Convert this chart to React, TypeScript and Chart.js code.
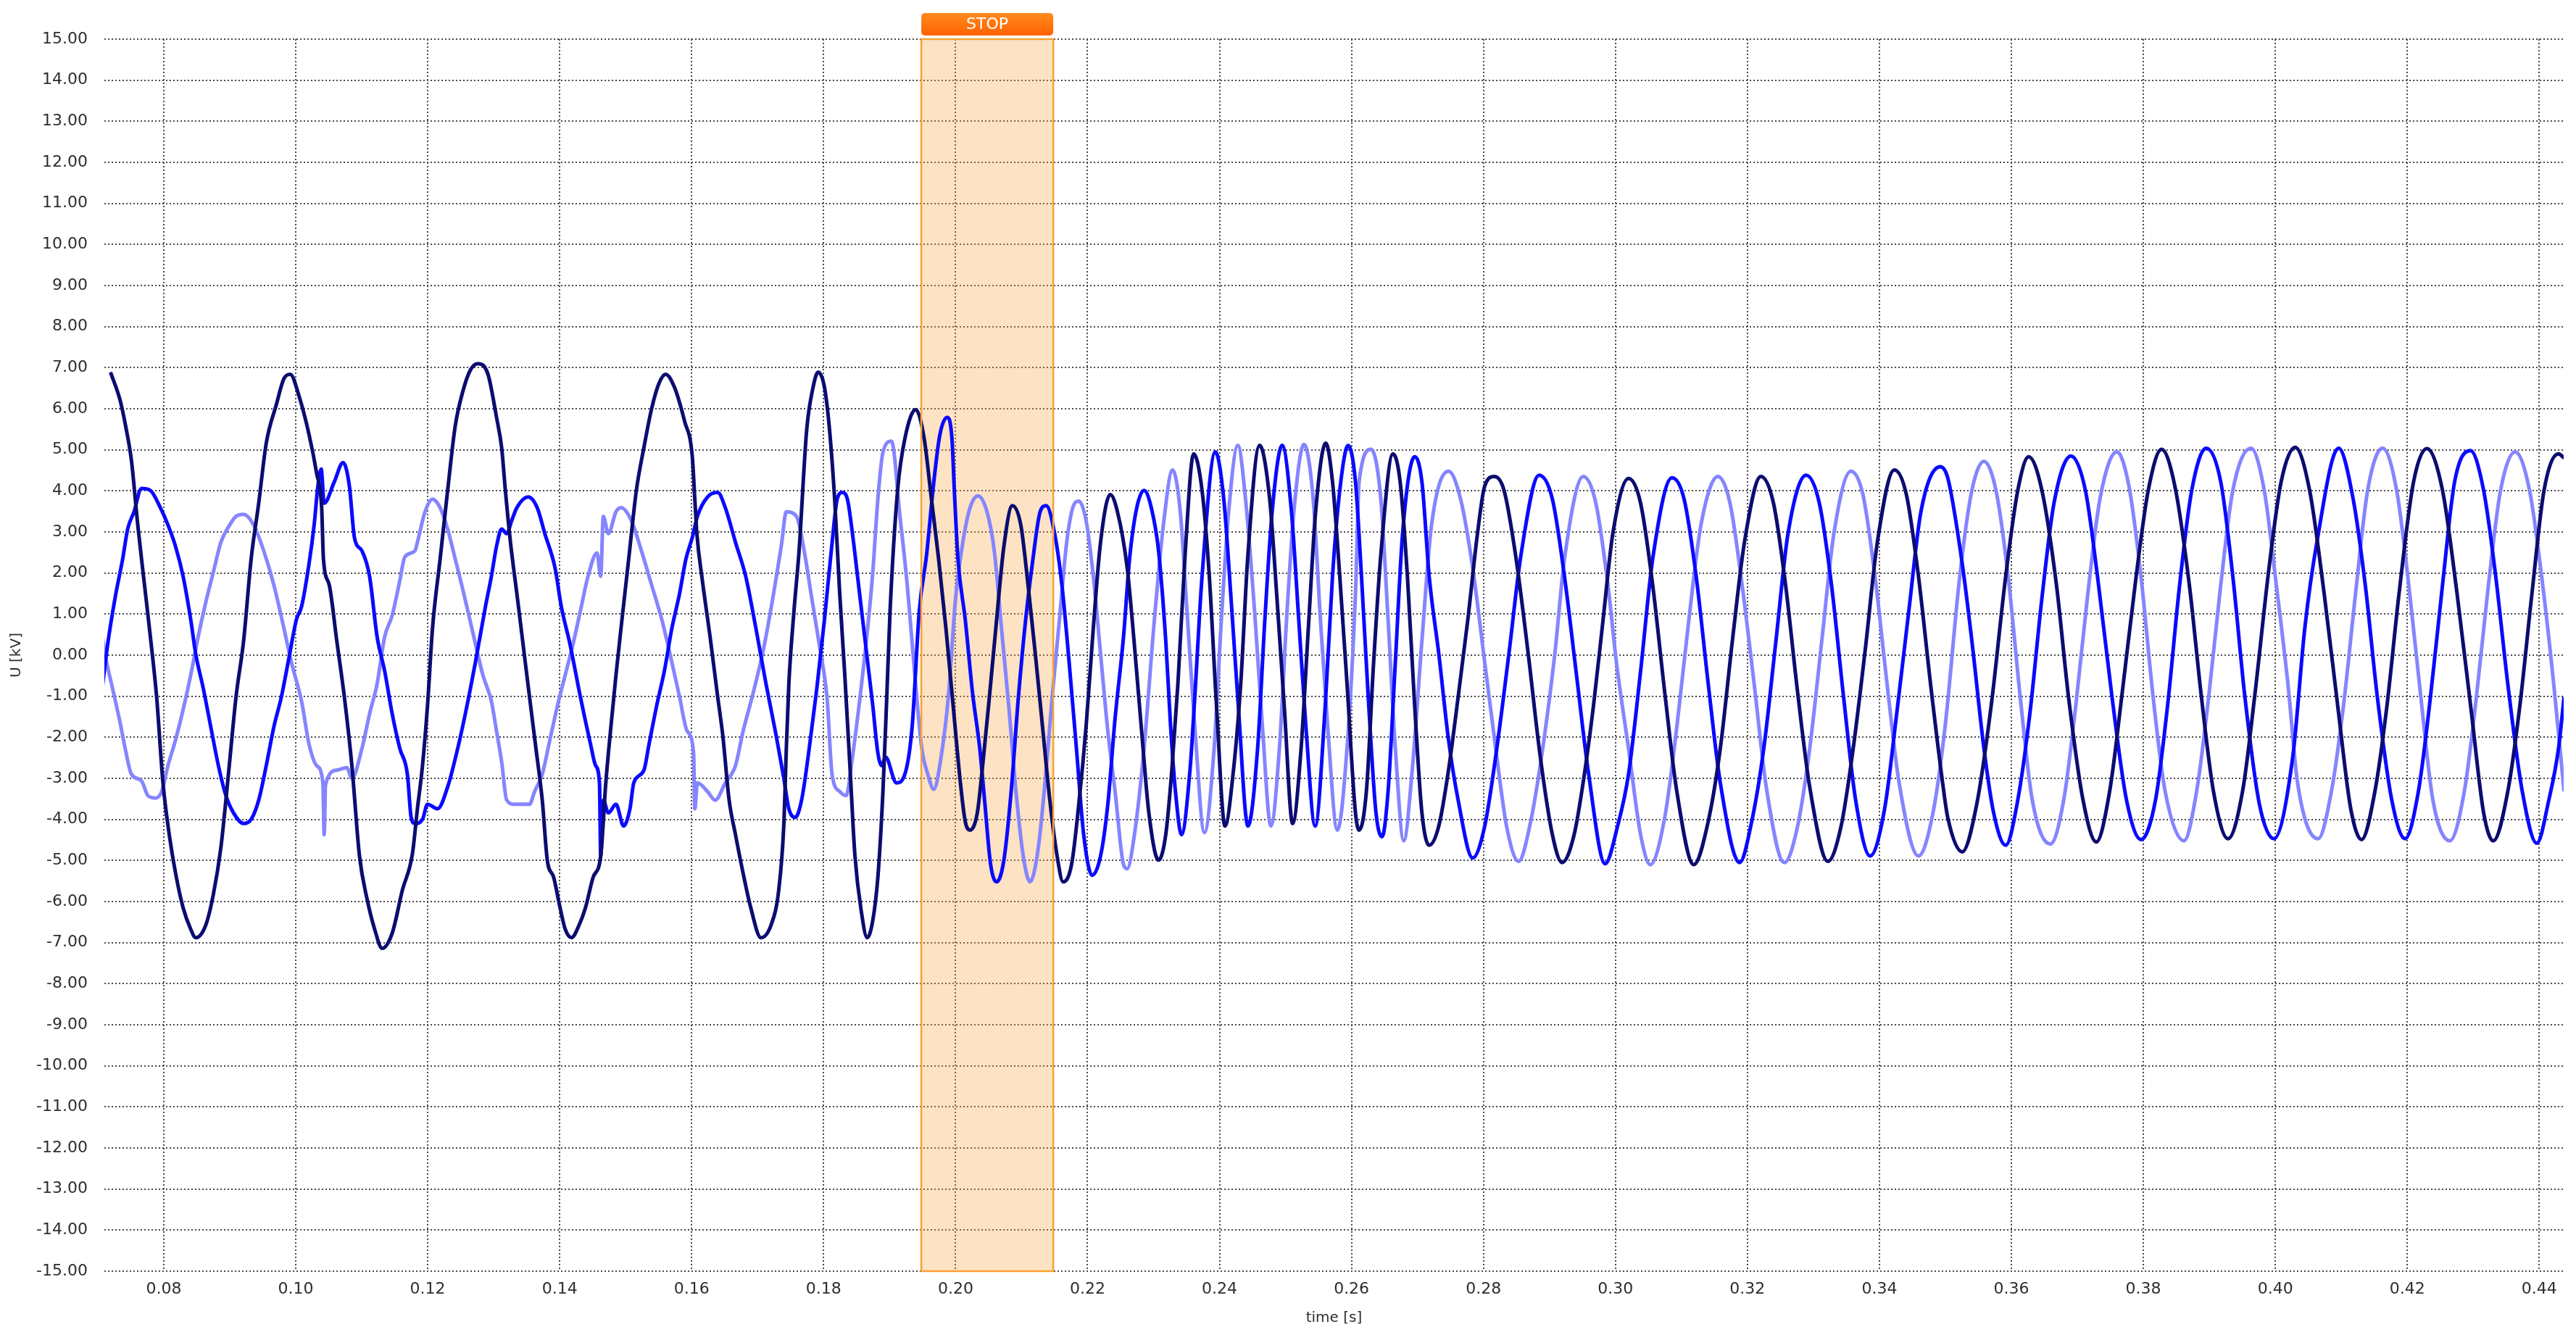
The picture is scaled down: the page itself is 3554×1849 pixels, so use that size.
import React, { useEffect, useRef } from 'react';
import { Chart, registerables } from 'chart.js';

Chart.register(...registerables);

// ---- axis / annotation values ----
const xTickValues = [0.08, 0.10, 0.12, 0.14, 0.16, 0.18, 0.20, 0.22, 0.24, 0.26, 0.28, 0.30, 0.32, 0.34, 0.36, 0.38, 0.40, 0.42, 0.44];
const xMin = 0.0710;
const xMax = 0.4437;
const yMin = -15;
const yMax = 15;
const yStep = 1;
const xTitle = 'time [s]';
const yTitle = 'U [kV]';
const stopStart = 0.1948;
const stopEnd = 0.2148;
const stopLabel = 'STOP';

// ---- series: [time s, voltage kV] ----
const navyPhase: number[][] = [
  [0.07193, 6.89], [0.07338, 6.21], [0.07434, 5.48], [0.07510, 4.74], [0.07606, 3.17], [0.07701, 1.81], [0.07797, 0.45], [0.07892, -1.02], [0.07988, -3.11], [0.08083, -4.37], [0.08179, -5.31], [0.08293, -6.15], [0.08408, -6.67], [0.08484, -6.88], [0.08637, -6.57], [0.08751, -5.83], [0.08866, -4.68], [0.08980, -2.90], [0.09095, -1.02], [0.09210, 0.35], [0.09324, 2.34], [0.09439, 3.70], [0.09553, 5.16], [0.09706, 6.10], [0.09820, 6.73], [0.09916, 6.84], [0.10050, 6.31], [0.10202, 5.37], [0.10317, 4.43], [0.10393, 3.59], [0.10420, 2.34], [0.10508, 1.71], [0.10622, 0.35], [0.10737, -1.02], [0.10851, -2.69], [0.10966, -4.89], [0.11081, -5.94], [0.11195, -6.67], [0.11310, -7.14], [0.11462, -6.77], [0.11615, -5.73], [0.11768, -4.84], [0.11844, -3.74], [0.11921, -2.69], [0.11997, -1.23], [0.12073, 0.66], [0.12188, 2.34], [0.12302, 4.01], [0.12417, 5.58], [0.12532, 6.42], [0.12646, 6.94], [0.12761, 7.10], [0.12913, 6.84],
  [0.13043, 5.79], [0.13120, 5.06], [0.13177, 4.01], [0.13254, 2.75], [0.13351, 1.50], [0.13447, 0.24], [0.13543, -1.02], [0.13640, -2.27], [0.13736, -3.53], [0.13813, -5.00], [0.13909, -5.41], [0.14006, -6.15], [0.14083, -6.67], [0.14179, -6.88], [0.14295, -6.57], [0.14391, -6.15], [0.14507, -5.41], [0.14622, -4.89], [0.14699, -3.11], [0.14776, -1.75], [0.14853, -0.49], [0.14930, 0.66], [0.15046, 2.34], [0.15162, 4.01], [0.15277, 5.06], [0.15393, 6.00], [0.15508, 6.63], [0.15605, 6.84], [0.15740, 6.52], [0.15894, 5.69], [0.16009, 4.85], [0.16048, 3.80], [0.16079, 2.96], [0.16163, 1.81], [0.16279, 0.45], [0.16395, -1.02], [0.16472, -1.96], [0.16568, -3.53], [0.16664, -4.37], [0.16780, -5.31], [0.16896, -6.15], [0.17050, -6.88], [0.17204, -6.57], [0.17319, -5.73], [0.17396, -4.16], [0.17435, -2.27], [0.17473, -0.70], [0.17551, 1.08], [0.17628, 2.54], [0.17743, 5.48], [0.17840, 6.52], [0.17917, 6.89], [0.18013, 6.52], [0.18090, 5.48], [0.18167, 3.80], [0.18244, 1.50], [0.18321, -0.49], [0.18398, -2.69], [0.18475, -4.89], [0.18572, -6.25], [0.18660, -6.88], [0.18745, -6.46], [0.18822, -5.41], [0.18899, -3.32], [0.18957, -1.02], [0.19007, 1.08],
  [0.19121, 4.01], [0.19231, 5.27], [0.19396, 5.98], [0.19524, 5.27], [0.19634, 3.80], [0.19743, 2.34], [0.19853, 0.66], [0.19963, -1.23], [0.20073, -3.11], [0.20146, -4.05], [0.20219, -4.26], [0.20329, -3.84], [0.20403, -2.80], [0.20512, -1.02], [0.20622, 0.87], [0.20732, 2.65], [0.20860, 3.64], [0.20988, 3.17], [0.21098, 1.71], [0.21208, 0.03], [0.21318, -1.75], [0.21428, -3.53], [0.21538, -4.89], [0.21629, -5.52], [0.21757, -5.10], [0.21867, -3.63], [0.21977, -1.75], [0.22087, 0.66], [0.22197, 2.75], [0.22343, 3.91], [0.22453, 3.49],
  [0.22600, 2.13], [0.22710, 0.24], [0.22819, -1.85], [0.22929, -3.84], [0.23076, -4.99], [0.23185, -4.37], [0.23277, -2.80], [0.23369, -0.70], [0.23478, 2.44], [0.23607, 4.90], [0.23735, 4.01], [0.23845, 1.92], [0.23954, -1.23], [0.24083, -4.16], [0.24211, -2.80], [0.24321, -0.70], [0.24430, 2.44], [0.24606, 5.11], [0.24760, 3.80], [0.24870, 1.39], [0.24980, -1.23], [0.25108, -4.10], [0.25236, -2.27], [0.25346, 0.66], [0.25456, 3.49], [0.25610, 5.16], [0.25712, 4.22], [0.25822, 1.92], [0.25932, -0.70], [0.26060, -3.84],
  [0.26115, -4.26], [0.26225, -3.32], [0.26335, -0.18], [0.26444, 2.44], [0.26628, 4.90], [0.26737, 4.22], [0.26847, 1.92], [0.26957, -1.23], [0.27067, -3.84], [0.27177, -4.63], [0.27323, -4.16], [0.27470, -2.80], [0.27616, -1.02], [0.27763, 0.87], [0.27909, 2.96], [0.28019, 4.12], [0.28165, 4.35], [0.28312, 4.01], [0.28495, 2.34], [0.28678, 0.03], [0.28861, -2.48], [0.29044, -4.37], [0.29191, -5.05], [0.29374, -4.37], [0.29520, -3.00], [0.29667, -1.23], [0.29813, 0.87], [0.29960, 2.96],
  [0.30198, 4.30], [0.30381, 3.70], [0.30564, 1.71], [0.30747, -0.91], [0.30930, -3.32], [0.31187, -5.10], [0.31406, -4.05], [0.31589, -2.27], [0.31772, 0.35], [0.31955, 2.75], [0.32204, 4.35], [0.32395, 3.70], [0.32578, 1.71], [0.32761, -0.91], [0.32944, -3.21], [0.33219, -5.02], [0.33420, -4.16], [0.33603, -2.27], [0.33786, 0.14], [0.33969, 2.75], [0.34226, 4.51], [0.34409, 3.91], [0.34592, 1.92], [0.34775, -0.70], [0.34958, -3.11],
  [0.35035, -3.95], [0.35255, -4.79], [0.35475, -3.63], [0.35694, -1.23], [0.35914, 1.92], [0.36097, 4.01], [0.36262, 4.83], [0.36463, 4.01], [0.36683, 1.71], [0.36866, -1.02], [0.37086, -3.53], [0.37287, -4.55], [0.37489, -3.32], [0.37672, -1.02], [0.37891, 1.92], [0.38074, 4.01], [0.38276, 5.01], [0.38477, 4.12], [0.38697, 1.71], [0.38880, -1.02], [0.39063, -3.32], [0.39283, -4.47], [0.39503, -3.32], [0.39686, -1.02], [0.39905, 2.13], [0.40088, 4.22],
  [0.40301, 5.06], [0.40520, 4.01], [0.40740, 1.50], [0.40960, -1.43], [0.41143, -3.74], [0.41308, -4.49], [0.41509, -3.32], [0.41692, -1.23], [0.41875, 1.50], [0.42095, 4.22], [0.42296, 5.03], [0.42534, 4.01], [0.42754, 1.50], [0.42974, -1.43], [0.43157, -3.84], [0.43303, -4.52], [0.43523, -3.32], [0.43706, -1.23], [0.43889, 1.50], [0.44072, 4.01], [0.44292, 4.90], [0.44376, 4.80],
];

const bluePhase: number[][] = [
  [0.07052, -1.02], [0.07148, 0.24], [0.07262, 1.39], [0.07377, 2.34], [0.07453, 3.07], [0.07549, 3.49], [0.07663, 4.06], [0.07797, 4.01], [0.07949, 3.59], [0.08064, 3.17], [0.08178, 2.65], [0.08293, 1.92], [0.08408, 0.87], [0.08484, 0.03], [0.08599, -0.81], [0.08713, -1.75], [0.08828, -2.69], [0.08942, -3.42], [0.09057, -3.84], [0.09210, -4.10], [0.09324, -4.00], [0.09439, -3.53], [0.09553, -2.69], [0.09668, -1.75], [0.09782, -1.02], [0.09897, -0.07], [0.10011, 0.87], [0.10088, 1.18], [0.10202, 2.23], [0.10279, 3.17], [0.10336, 4.12], [0.10386, 4.53], [0.10431, 3.70], [0.10584, 4.22], [0.10718, 4.69], [0.10813, 4.12], [0.10890, 2.86], [0.11004, 2.54], [0.11119, 1.92], [0.11233, 0.45], [0.11348, -0.39], [0.11462, -1.43], [0.11577, -2.27], [0.11692, -2.90], [0.11749, -3.95], [0.11806, -4.10], [0.11921, -4.00], [0.11997, -3.63], [0.12150, -3.74], [0.12302, -3.21], [0.12455, -2.27], [0.12570, -1.43], [0.12722, -0.18], [0.12875, 1.18],
  [0.12965, 1.92], [0.13043, 2.65], [0.13120, 3.07], [0.13197, 2.96], [0.13274, 3.28], [0.13351, 3.59], [0.13524, 3.85], [0.13659, 3.59], [0.13775, 2.96], [0.13929, 2.13], [0.14025, 1.18], [0.14160, 0.24], [0.14314, -1.02], [0.14468, -2.17], [0.14545, -2.69], [0.14603, -3.11], [0.14622, -4.89], [0.14661, -3.53], [0.14738, -3.84], [0.14853, -3.63], [0.14969, -4.16], [0.15065, -3.74], [0.15123, -3.11], [0.15277, -2.80], [0.15354, -2.17], [0.15470, -1.23], [0.15586, -0.39], [0.15701, 0.66], [0.15817, 1.50], [0.15913, 2.34], [0.16009, 2.86], [0.16087, 3.38], [0.16240, 3.85], [0.16395, 3.96], [0.16510, 3.59], [0.16664, 2.75], [0.16819, 1.92], [0.16973, 0.66], [0.17127, -0.70], [0.17281, -1.96], [0.17397, -3.00], [0.17473, -3.74], [0.17570, -3.95], [0.17666, -3.53], [0.17782, -2.27], [0.17897, -0.81], [0.18013, 0.87], [0.18129, 2.75], [0.18206, 3.80], [0.18283, 3.96], [0.18360, 3.80], [0.18437, 2.96], [0.18514, 1.92], [0.18591, 0.87], [0.18668, -0.18], [0.18745, -1.23], [0.18822, -2.38], [0.18880, -2.69], [0.18938, -2.48],
  [0.19103, -3.11], [0.19231, -2.90], [0.19341, -1.75], [0.19450, 1.08], [0.19560, 2.44], [0.19670, 4.22], [0.19762, 5.37], [0.19872, 5.79], [0.19945, 5.27], [0.19981, 4.01], [0.20036, 2.34], [0.20146, 0.87], [0.20256, -0.91], [0.20366, -2.27], [0.20439, -3.53], [0.20531, -5.10], [0.20622, -5.52], [0.20732, -4.99], [0.20842, -3.32], [0.20952, -1.02], [0.21062, 0.87], [0.21172, 2.34], [0.21281, 3.49], [0.21373, 3.64], [0.21501, 2.96], [0.21611, 1.71], [0.21721, -0.18], [0.21831, -2.27], [0.21941, -4.37], [0.22069, -5.36], [0.22197, -4.89], [0.22307, -3.63], [0.22417, -1.54], [0.22545, 0.45],
  [0.22636, 2.34], [0.22746, 3.59], [0.22856, 4.01], [0.22966, 3.59], [0.23076, 2.54], [0.23185, 0.35], [0.23259, -1.75], [0.23332, -3.32], [0.23424, -4.37], [0.23552, -2.80], [0.23625, -1.02], [0.23735, 1.92], [0.23936, 4.95], [0.24064, 3.80], [0.24174, 1.39], [0.24284, -1.23], [0.24431, -4.16], [0.24577, -2.27], [0.24687, 0.87], [0.24797, 3.49], [0.24950, 5.11], [0.25090, 3.49], [0.25200, 0.87], [0.25309, -1.75], [0.25449, -4.16], [0.25602, -1.23], [0.25712, 1.92], [0.25822, 4.01], [0.25950, 5.11], [0.26060, 4.22],
  [0.26151, 1.92], [0.26261, -1.23], [0.26371, -3.84], [0.26463, -4.42], [0.26554, -3.32], [0.26664, -0.18], [0.26774, 2.96], [0.26957, 4.83], [0.27067, 4.22], [0.27177, 1.92], [0.27323, 0.03], [0.27470, -2.06], [0.27616, -3.53], [0.27836, -4.94], [0.28019, -4.16], [0.28202, -2.27], [0.28385, 0.03], [0.28568, 2.44], [0.28843, 4.38], [0.29044, 3.80], [0.29227, 1.92], [0.29410, -0.49], [0.29594, -2.90], [0.29843, -5.08], [0.30033, -4.16],
  [0.30198, -2.90], [0.30381, -0.39], [0.30564, 2.34], [0.30857, 4.32], [0.31040, 3.80], [0.31223, 1.92], [0.31406, -0.70], [0.31589, -3.11], [0.31882, -5.05], [0.32065, -4.05], [0.32248, -2.27], [0.32432, 0.35], [0.32615, 2.96], [0.32889, 4.38], [0.33090, 3.70], [0.33274, 1.71], [0.33457, -1.02], [0.33640, -3.53], [0.33860, -4.89], [0.34079, -3.74], [0.34262, -1.43], [0.34446, 1.08], [0.34629, 3.49], [0.34922, 4.59],
  [0.35035, 4.32], [0.35255, 2.23], [0.35401, 0.35], [0.35584, -2.27], [0.35731, -3.84], [0.35914, -4.63], [0.36097, -3.53], [0.36280, -1.43], [0.36463, 1.39], [0.36646, 3.70], [0.36903, 4.85], [0.37122, 4.01], [0.37305, 1.92], [0.37525, -1.02], [0.37745, -3.53], [0.37965, -4.49], [0.38184, -3.53], [0.38367, -1.23], [0.38550, 1.71], [0.38733, 4.01], [0.38953, 5.04], [0.39173, 4.22], [0.39356, 1.92], [0.39539, -1.02], [0.39759, -3.63], [0.39979, -4.47],
  [0.40264, -2.48], [0.40447, 0.66], [0.40630, 2.75], [0.40960, 5.04], [0.41180, 3.80], [0.41363, 1.71], [0.41546, -1.02], [0.41765, -3.53], [0.41967, -4.47], [0.42168, -3.32], [0.42351, -1.02], [0.42534, 1.71], [0.42717, 4.22], [0.42956, 4.98], [0.43157, 4.01], [0.43340, 1.92], [0.43523, -0.70], [0.43743, -3.32], [0.43963, -4.58], [0.44145, -3.53], [0.44292, -2.27], [0.44376, -1.02],
];

const lightPhase: number[][] = [
  [0.07052, 0.66], [0.07109, 0.03], [0.07224, -0.81], [0.07338, -1.64], [0.07415, -2.27], [0.07510, -2.90], [0.07663, -3.06], [0.07759, -3.42], [0.07873, -3.48], [0.07969, -3.32], [0.08064, -2.69], [0.08179, -2.06], [0.08293, -1.33], [0.08408, -0.49], [0.08522, 0.45], [0.08637, 1.29], [0.08751, 2.02], [0.08866, 2.75], [0.08980, 3.12], [0.09095, 3.38], [0.09210, 3.43], [0.09362, 3.17], [0.09515, 2.54], [0.09668, 1.71], [0.09820, 0.66], [0.09935, -0.18], [0.10088, -1.12], [0.10202, -2.17], [0.10317, -2.69], [0.10412, -3.11], [0.10431, -4.37], [0.10451, -3.16], [0.10622, -2.80], [0.10775, -2.74], [0.10851, -3.00], [0.11004, -2.27], [0.11119, -1.43], [0.11233, -0.70], [0.11348, 0.45], [0.11462, 0.97], [0.11577, 1.81], [0.11653, 2.39], [0.11806, 2.54], [0.11844, 2.75], [0.11959, 3.49], [0.12073, 3.80], [0.12188, 3.59], [0.12302, 3.07], [0.12417, 2.34], [0.12532, 1.60], [0.12684, 0.55], [0.12837, -0.49],
  [0.12965, -1.12], [0.13043, -1.85], [0.13120, -2.59], [0.13197, -3.53], [0.13313, -3.63], [0.13543, -3.63], [0.13620, -3.32], [0.13736, -2.90], [0.13852, -2.06], [0.13967, -1.23], [0.14083, -0.49], [0.14198, 0.24], [0.14314, 1.08], [0.14430, 1.92], [0.14565, 2.49], [0.14622, 1.92], [0.14661, 3.38], [0.14738, 2.96], [0.14853, 3.49], [0.14931, 3.59], [0.15085, 3.28], [0.15239, 2.54], [0.15393, 1.71], [0.15547, 0.87], [0.15701, -0.18], [0.15817, -1.02], [0.15932, -1.85], [0.16029, -2.38], [0.16048, -3.74], [0.16087, -3.11], [0.16240, -3.32], [0.16356, -3.53], [0.16510, -3.11], [0.16664, -2.69], [0.16780, -1.85], [0.16934, -0.91], [0.17088, 0.14], [0.17242, 1.50], [0.17358, 2.65], [0.17435, 3.49], [0.17589, 3.38], [0.17705, 2.54], [0.17820, 1.39], [0.17936, 0.24], [0.18051, -1.02], [0.18128, -2.90], [0.18244, -3.32], [0.18340, -3.42], [0.18437, -2.48], [0.18552, -1.02], [0.18668, 0.66], [0.18745, 2.02], [0.18822, 3.80], [0.18899, 4.94],
  [0.19029, 5.21], [0.19157, 3.38], [0.19267, 1.71], [0.19377, -0.39], [0.19487, -2.27], [0.19579, -2.90], [0.19670, -3.27], [0.19780, -2.48], [0.19890, -1.02], [0.20000, 1.39], [0.20110, 2.75], [0.20219, 3.59], [0.20337, 3.88], [0.20476, 3.49], [0.20586, 2.54], [0.20695, 0.66], [0.20805, -1.23], [0.20915, -3.32], [0.21025, -4.89], [0.21128, -5.52], [0.21245, -4.79], [0.21355, -3.11], [0.21464, -1.02], [0.21574, 0.87], [0.21684, 2.75], [0.21776, 3.59], [0.21867, 3.75], [0.21977, 3.28], [0.22087, 1.92], [0.22197, 0.03], [0.22307, -1.85], [0.22417, -3.32], [0.22545, -5.10],
  [0.22600, -5.20], [0.22710, -4.37], [0.22856, -2.27], [0.23002, 0.66], [0.23149, 3.17], [0.23288, 4.51], [0.23405, 3.49], [0.23515, 0.87], [0.23625, -1.75], [0.23771, -4.32], [0.23918, -2.27], [0.24028, 0.87], [0.24138, 3.49], [0.24277, 5.11], [0.24394, 3.80], [0.24540, 0.87], [0.24650, -1.75], [0.24778, -4.16], [0.24907, -2.27], [0.25016, 0.87], [0.25126, 3.49], [0.25280, 5.13], [0.25419, 3.80], [0.25529, 0.87], [0.25639, -1.75], [0.25785, -4.26], [0.25932, -2.27], [0.26060, 1.50],
  [0.26115, 4.22], [0.26298, 5.01], [0.26444, 3.80], [0.26554, 0.87], [0.26664, -2.27], [0.26792, -4.52], [0.26920, -2.80], [0.27067, 0.35], [0.27213, 3.17], [0.27470, 4.48], [0.27653, 3.80], [0.27836, 2.13], [0.28019, -0.18], [0.28202, -2.48], [0.28349, -4.16], [0.28532, -5.02], [0.28715, -4.05], [0.28898, -2.27], [0.29081, 0.03], [0.29227, 2.34], [0.29513, 4.35], [0.29703, 3.70], [0.29886, 1.71],
  [0.30015, -0.18], [0.30198, -2.27], [0.30381, -4.37], [0.30527, -5.10], [0.30747, -3.95], [0.30930, -1.75], [0.31113, 0.87], [0.31296, 3.17], [0.31553, 4.35], [0.31736, 3.70], [0.31919, 1.71], [0.32102, -0.70], [0.32285, -3.21], [0.32560, -5.05], [0.32761, -4.16], [0.32944, -2.27], [0.33127, 0.35], [0.33310, 2.96], [0.33567, 4.48], [0.33750, 3.91], [0.33933, 1.92], [0.34116, -0.70], [0.34299, -3.11], [0.34592, -4.89], [0.34812, -3.84], [0.34995, -1.75],
  [0.35218, 1.92], [0.35401, 4.01], [0.35584, 4.72], [0.35767, 4.01], [0.35951, 1.92], [0.36134, -1.02], [0.36317, -3.53], [0.36591, -4.60], [0.36793, -3.53], [0.36976, -1.23], [0.37159, 1.50], [0.37342, 3.80], [0.37598, 4.95], [0.37781, 4.12], [0.37964, 1.92], [0.38148, -1.02], [0.38331, -3.32], [0.38616, -4.52], [0.38807, -3.32], [0.38990, -1.02], [0.39173, 1.71], [0.39356, 4.01], [0.39631, 5.04], [0.39832, 4.01], [0.40015, 1.71],
  [0.40191, -0.70], [0.40337, -3.11], [0.40649, -4.47], [0.40850, -3.32], [0.41033, -1.23], [0.41216, 1.50], [0.41399, 4.01], [0.41626, 5.04], [0.41839, 4.01], [0.42022, 1.71], [0.42205, -1.02], [0.42388, -3.53], [0.42644, -4.52], [0.42864, -3.32], [0.43047, -1.02], [0.43230, 1.71], [0.43413, 4.01], [0.43633, 4.95], [0.43853, 4.01], [0.44036, 1.92], [0.44219, -0.70], [0.44376, -3.32],
];

const FONT = 'DejaVu Sans';
const TEXT_COLOR = '#2e2e2e';
const GRID_COLOR = '#4a4a4a';

const stopPlugin = {
  id: 'stopZone',
  beforeDatasetsDraw(chart: any) {
    const { ctx, chartArea, scales } = chart;
    const x0 = scales.x.getPixelForValue(stopStart);
    const x1 = scales.x.getPixelForValue(stopEnd);
    ctx.save();
    ctx.fillStyle = 'rgba(250,160,60,0.30)';
    ctx.fillRect(x0, chartArea.top, x1 - x0, chartArea.bottom - chartArea.top);
    ctx.restore();
  },
  afterDatasetsDraw(chart: any) {
    const { ctx, chartArea, scales } = chart;
    const x0 = scales.x.getPixelForValue(stopStart);
    const x1 = scales.x.getPixelForValue(stopEnd);
    ctx.save();
    ctx.strokeStyle = '#f7a233';
    ctx.lineWidth = 2.5;
    ctx.strokeRect(x0, chartArea.top, x1 - x0, chartArea.bottom - chartArea.top);
    const bTop = chartArea.top - 36;
    const bH = 31;
    const grad = ctx.createLinearGradient(0, bTop, 0, bTop + bH);
    grad.addColorStop(0, '#ff8a1e');
    grad.addColorStop(1, '#ff6200');
    ctx.fillStyle = grad;
    ctx.beginPath();
    if (ctx.roundRect) ctx.roundRect(x0, bTop, x1 - x0, bH, 5);
    else ctx.rect(x0, bTop, x1 - x0, bH);
    ctx.fill();
    ctx.fillStyle = '#ffffff';
    ctx.font = `22px "${FONT}"`;
    ctx.textAlign = 'center';
    ctx.textBaseline = 'middle';
    ctx.fillText(stopLabel, (x0 + x1) / 2, bTop + bH / 2 + 1);
    ctx.restore();
  },
};

export default function App() {
  const canvasRef = useRef<HTMLCanvasElement>(null);

  useEffect(() => {
    const canvas = canvasRef.current;
    if (!canvas) return;
    const toXY = (arr: number[][]) => arr.map(([x, y]) => ({ x, y }));
    const lineDs = (label: string, arr: number[][], color: string, order: number) => ({
      label,
      data: toXY(arr),
      borderColor: color,
      backgroundColor: color,
      borderWidth: 5,
      pointRadius: 0,
      pointHoverRadius: 0,
      fill: false,
      cubicInterpolationMode: 'monotone' as const,
      clip: 0,
      order,
    });

    const chart = new Chart(canvas, {
      type: 'line',
      data: {
        datasets: [
          lineDs('U3', lightPhase, '#8585ff', 3),
          lineDs('U2', bluePhase, '#0a0aff', 2),
          lineDs('U1', navyPhase, '#0c0c70', 1),
        ],
      },
      options: {
        responsive: false,
        animation: false,
        devicePixelRatio: 1,
        events: [],
        layout: { padding: { top: 54, right: 17, bottom: 0, left: 0 } },
        plugins: { legend: { display: false }, tooltip: { enabled: false } },
        scales: {
          x: {
            type: 'linear',
            min: xMin,
            max: xMax,
            afterBuildTicks: (scale: any) => {
              scale.ticks = xTickValues.map((v) => ({ value: v }));
            },
            afterFit: (scale: any) => {
              scale.height = 95;
            },
            ticks: {
              autoSkip: false,
              maxRotation: 0,
              padding: 12,
              color: TEXT_COLOR,
              font: { family: FONT, size: 22 },
              callback: (v: any) => Number(v).toFixed(2),
            },
            grid: { color: GRID_COLOR, lineWidth: 2, drawTicks: false },
            border: { display: false, dash: [2, 3] },
            title: {
              display: true,
              text: xTitle,
              color: TEXT_COLOR,
              font: { family: FONT, size: 20 },
              padding: { top: 0, bottom: 18 },
            },
          },
          y: {
            type: 'linear',
            min: yMin,
            max: yMax,
            afterFit: (scale: any) => {
              scale.width = 144;
            },
            ticks: {
              stepSize: yStep,
              autoSkip: false,
              padding: 23,
              color: TEXT_COLOR,
              font: { family: FONT, size: 22 },
              callback: (v: any) => Number(v).toFixed(2),
            },
            grid: { color: GRID_COLOR, lineWidth: 2, drawTicks: false },
            border: { display: false, dash: [2, 3] },
            title: {
              display: true,
              text: yTitle,
              color: TEXT_COLOR,
              font: { family: FONT, size: 20 },
              padding: { top: 11, bottom: 0 },
            },
          },
        },
      },
      plugins: [stopPlugin],
    } as any);

    return () => chart.destroy();
  }, []);

  return (
    <div style={{ position: 'fixed', left: 0, top: 0, width: 3554, height: 1849, background: '#ffffff' }}>
      <canvas ref={canvasRef} width={3554} height={1849} style={{ display: 'block', width: 3554, height: 1849 }} />
    </div>
  );
}
